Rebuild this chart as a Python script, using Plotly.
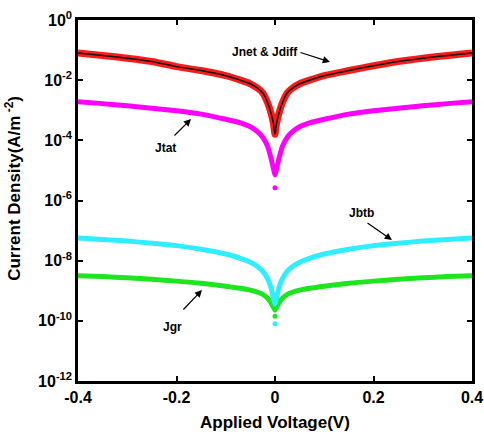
import plotly.graph_objects as go

# Applied voltage (V)
voltage = [-0.4, -0.35, -0.3, -0.25, -0.2, -0.15, -0.1, -0.07, -0.05, -0.035, -0.025, -0.015, -0.008, -0.003, 0.0,
           0.003, 0.008, 0.015, 0.025, 0.035, 0.05, 0.07, 0.1, 0.15, 0.2, 0.25, 0.3, 0.35, 0.4]

# log10 of current densities (A/m^2)
jnet_log = [-1.10, -1.18, -1.27, -1.38, -1.55, -1.68, -1.85, -2.00, -2.12, -2.27, -2.42, -2.75, -3.10, -3.45, -3.80,
            -3.45, -3.10, -2.75, -2.42, -2.27, -2.12, -2.00, -1.85, -1.68, -1.52, -1.38, -1.27, -1.18, -1.10]
jtat_log = [-2.72, -2.78, -2.85, -2.93, -3.02, -3.13, -3.30, -3.42, -3.55, -3.72, -3.90, -4.20, -4.60, -4.95, -5.15,
            -4.95, -4.60, -4.20, -3.90, -3.72, -3.55, -3.42, -3.30, -3.13, -3.02, -2.93, -2.85, -2.78, -2.72]
jbtb_log = [-7.25, -7.30, -7.35, -7.42, -7.50, -7.62, -7.78, -7.92, -8.05, -8.20, -8.35, -8.60, -8.90, -9.25, -9.45,
            -9.25, -8.90, -8.60, -8.35, -8.20, -8.05, -7.92, -7.78, -7.62, -7.50, -7.42, -7.35, -7.30, -7.25]
jgr_log = [-8.50, -8.53, -8.57, -8.62, -8.68, -8.75, -8.85, -8.92, -8.98, -9.05, -9.12, -9.25, -9.40, -9.55, -9.65,
           -9.55, -9.40, -9.25, -9.12, -9.05, -8.98, -8.92, -8.85, -8.75, -8.68, -8.62, -8.57, -8.53, -8.50]

# isolated points near V = 0
dip_v = [0.0]
jtat_dip_log = [-5.58]
jbtb_dip_log = [-10.1]
jgr_dip_log = [-9.85]

ytick_exp = [0, -2, -4, -6, -8, -10, -12]
xtick_vals = [-0.4, -0.2, 0, 0.2, 0.4]
xtick_text = ["-0.4", "-0.2", "0", "0.2", "0.4"]

def p(a):
    return [10 ** v for v in a]

fig = go.Figure()

def curve(y, color, width):
    fig.add_trace(go.Scatter(x=voltage, y=p(y), mode="lines",
                             line=dict(color=color, width=width, shape="spline", smoothing=0.6),
                             showlegend=False, hoverinfo="skip"))

curve(jgr_log, "#1ee61e", 5)
curve(jbtb_log, "#2eeeff", 5)
curve(jtat_log, "#ff00ff", 5)
curve(jnet_log, "#ff1a1a", 7)
curve(jnet_log, "#111111", 1.5)

for yy, c in [(jtat_dip_log, "#ff00ff"), (jbtb_dip_log, "#2eeeff"), (jgr_dip_log, "#1ee61e")]:
    fig.add_trace(go.Scatter(x=dip_v, y=p(yy), mode="markers",
                             marker=dict(color=c, size=5), showlegend=False, hoverinfo="skip"))

font = "Liberation Sans, Arial, sans-serif"
fig.update_layout(
    width=484, height=435,
    margin=dict(l=78, r=12, t=20, b=54),
    plot_bgcolor="white", paper_bgcolor="white",
    font=dict(family=font, color="black"),
    xaxis=dict(range=[-0.4, 0.4], tickvals=xtick_vals, automargin=False,
               ticktext=["<b>%s</b>" % t for t in xtick_text],
               ticks="inside", ticklen=5, tickwidth=2, tickcolor="black",
               showline=True, linewidth=2.5, linecolor="black", mirror="ticks",
               showgrid=False, zeroline=False, tickfont=dict(size=16)),
    yaxis=dict(type="log", range=[-12, 0], tickvals=[10 ** e for e in ytick_exp], automargin=False,
               ticktext=["<b>10<sup>%d</sup></b>" % e for e in ytick_exp],
               ticks="inside", ticklen=5, tickwidth=2, tickcolor="black",
               showline=True, linewidth=2.5, linecolor="black", mirror="ticks",
               showgrid=False, zeroline=False, tickfont=dict(size=16)),
)

ann = [
    dict(x=0.5, y=-0.115, xref="paper", yref="paper", text="<b>Applied Voltage(V)</b>",
         showarrow=False, font=dict(size=17), xanchor="center", yanchor="middle"),
    dict(x=-0.165, y=0.535, xref="paper", yref="paper", text="<b>Current Density(A/m<sup> -2</sup>)</b>",
         showarrow=False, font=dict(size=17), textangle=-90, xanchor="center", yanchor="middle"),
]
# text labels with arrows (pixel offsets)
labels = [
    ("Jnet & Jdiff", 265, 52, 299, 52, 330, 62),
    ("Jtat", 165, 148, 173, 137, 191, 119),
    ("Jbtb", 361, 213, 366, 222, 392, 240),
    ("Jgr", 172, 327, 182, 311, 202, 290),
]
W, H = 484 - 78 - 12, 435 - 20 - 54
def px(x, y):
    return (x - 78) / W, 1 - (y - 20) / H
for t, tx, ty, x0, y0, x1, y1 in labels:
    a, b = px(tx, ty)
    ann.append(dict(x=a, y=b, xref="paper", yref="paper", text="<b>%s</b>" % t, showarrow=False,
                    font=dict(size=12), xanchor="center", yanchor="middle"))
    hx, hy = px(x1, y1)
    ann.append(dict(x=hx, y=hy, xref="paper", yref="paper", ax=x0 - x1, ay=y0 - y1, axref="pixel", ayref="pixel",
                    text="", showarrow=True, arrowhead=2, arrowsize=1.2, arrowwidth=1.2, arrowcolor="black"))
fig.update_layout(annotations=ann)

fig.write_html("out.html")
